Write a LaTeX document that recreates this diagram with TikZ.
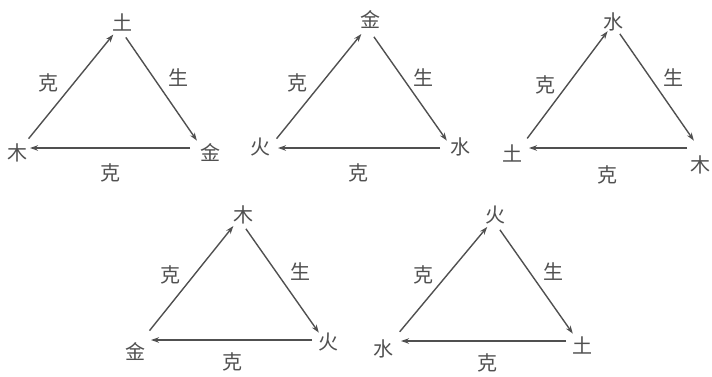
\documentclass[tikz,border=0pt]{standalone}
\usepackage{fontspec}
\newfontfamily\cjk{Noto Sans CJK SC}
\usetikzlibrary{arrows.meta}
\definecolor{ink}{HTML}{505050}
\begin{document}
\begin{tikzpicture}[x=1pt,y=-1pt,
  lab/.style={font=\cjk\fontsize{20}{20}\selectfont, text=ink, inner sep=0pt},
  arr/.style={draw=ink, line width=1.4pt, -{Stealth[length=8pt,width=5.5pt]}, shorten <=12pt, shorten >=9pt}]
\useasboundingbox (0,0) rectangle (712,376);
% triangle 1
\coordinate (a1) at (119,27.5); \coordinate (b1) at (21,148); \coordinate (c1) at (202,148);
\node[lab] (t1) at (122,22) {土};
\node[lab] (l1) at (18,153) {木};
\node[lab] (r1) at (210,153) {金};
\node[lab] (k1) at (48,83) {克};
\node[lab] (s1) at (178,78) {生};
\node[lab] (m1) at (110,173) {克};
\draw[arr] (b1) -- (a1); \draw[arr] (a1) -- (c1); \draw[arr] (c1) -- (b1);
% triangle 2
\coordinate (a2) at (367,27); \coordinate (b2) at (269,148); \coordinate (c2) at (452,148);
\node[lab] (t2) at (370,20) {金};
\node[lab] (l2) at (260,147) {火};
\node[lab] (r2) at (460,147) {水};
\node[lab] (k2) at (297,83) {克};
\node[lab] (s2) at (423,78) {生};
\node[lab] (m2) at (358,173) {克};
\draw[arr] (b2) -- (a2); \draw[arr] (a2) -- (c2); \draw[arr] (c2) -- (b2);
% triangle 3
\coordinate (a3) at (613,24); \coordinate (b3) at (520,148); \coordinate (c3) at (699,148);
\node[lab] (t3) at (613,22) {水};
\node[lab] (l3) at (512,153) {土};
\node[lab] (r3) at (700,165) {木};
\node[lab] (k3) at (545,85) {克};
\node[lab] (s3) at (673,78) {生};
\node[lab] (m3) at (607,175) {克};
\draw[arr] (b3) -- (a3); \draw[arr] (a3) -- (c3); \draw[arr] (c3) -- (b3);
% triangle 4
\coordinate (a4) at (239,219); \coordinate (b4) at (142,340); \coordinate (c4) at (324,340);
\node[lab] (t4) at (243,215) {木};
\node[lab] (l4) at (135,352) {金};
\node[lab] (r4) at (328,342) {火};
\node[lab] (k4) at (170,275) {克};
\node[lab] (s4) at (300,272) {生};
\node[lab] (m4) at (232,362) {克};
\draw[arr] (b4) -- (a4); \draw[arr] (a4) -- (c4); \draw[arr] (c4) -- (b4);
% triangle 5
\coordinate (a5) at (493,220); \coordinate (b5) at (392,341); \coordinate (c5) at (578,341);
\node[lab] (t5) at (495,215) {火};
\node[lab] (l5) at (383,349) {水};
\node[lab] (r5) at (582,345) {土};
\node[lab] (k5) at (423,275) {克};
\node[lab] (s5) at (553,272) {生};
\node[lab] (m5) at (487,363) {克};
\draw[arr] (b5) -- (a5); \draw[arr] (a5) -- (c5); \draw[arr] (c5) -- (b5);
\end{tikzpicture}
\end{document}
